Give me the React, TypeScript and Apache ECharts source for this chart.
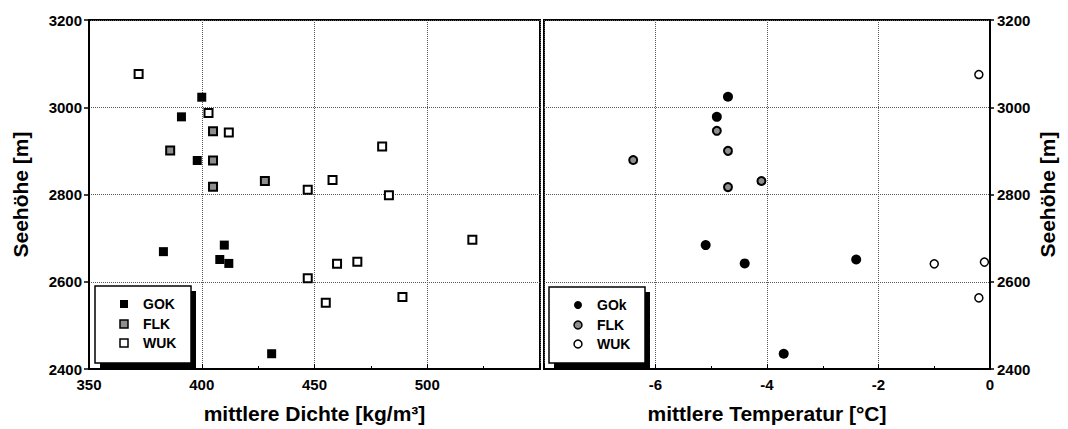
import React, { useEffect, useRef } from "react";
import * as echarts from "echarts";

// ---- data ----
// left panel: mean density [kg/m³] vs altitude [m]
const gokDensity = [[400, 3023], [391, 2978], [398, 2878], [383, 2669], [410, 2684], [408, 2651], [412, 2642], [431, 2435]];
const flkDensity = [[405, 2945], [386, 2901], [405, 2878], [428, 2831], [405, 2818]];
const wukDensity = [[372, 3076], [403, 2987], [412, 2942], [480, 2910], [458, 2833], [447, 2811], [483, 2798], [520, 2696], [460, 2641], [469, 2646], [447, 2608], [455, 2552], [489, 2565]];
// right panel: mean temperature [°C] vs altitude [m]
const gokTemp = [[-4.7, 3024], [-4.9, 2978], [-5.1, 2684], [-4.4, 2642], [-2.4, 2651], [-3.7, 2435]];
const flkTemp = [[-4.9, 2946], [-4.7, 2900], [-6.4, 2879], [-4.1, 2831], [-4.7, 2817]];
const wukTemp = [[-0.2, 3075], [-1.0, 2641], [-0.1, 2645], [-0.2, 2563]];

const legendLeftLabels = ["GOK", "FLK", "WUK"];
const legendRightLabels = ["GOk", "FLK", "WUK"];

const xNameLeft = "mittlere Dichte [kg/m³]";
const xNameRight = "mittlere Temperatur [°C]";
const yName = "Seehöhe [m]";

const FONT = '"Liberation Sans", Arial, sans-serif';

export default function App() {
  const ref = useRef<HTMLDivElement>(null);
  useEffect(() => {
    if (!ref.current) return;
    const chart = echarts.init(ref.current, undefined, { renderer: "svg" });

    const plain = (v: number) => String(v);
    const tickLabel = { color: "#000", fontSize: 15, fontWeight: "bold" as const, fontFamily: FONT, formatter: plain };
    const nameStyle = { color: "#000", fontSize: 21, fontWeight: "bold" as const, fontFamily: FONT };
    const splitLine = { show: true, lineStyle: { color: "#555", type: "dotted" as const, width: 1 } };
    const axisLine = { show: true, onZero: false, lineStyle: { color: "#000", width: 2 } };

    const styles = [
      { color: "#000", borderColor: "#000", borderWidth: 0, opacity: 1 },
      { color: "#8e8e8e", borderColor: "#000", borderWidth: 2, opacity: 1 },
      { color: "#fff", borderColor: "#000", borderWidth: 2, opacity: 1 },
    ];

    const graphic: any[] = [];
    const addLegend = (x0: number, y0: number, w: number, h: number, mx: number, tx: number, labels: string[], circle: boolean) => {
      graphic.push({ type: "rect", shape: { x: x0 + 5, y: y0 + 5, width: w, height: h }, style: { fill: "#000" } });
      graphic.push({ type: "rect", shape: { x: x0, y: y0, width: w, height: h }, style: { fill: "#fff", stroke: "#000", lineWidth: 1.5 } });
      const ys = [y0 + 18, y0 + 38, y0 + 57];
      labels.forEach((lab, i) => {
        const st = styles[i];
        const sw = i === 0 ? 0 : 1.5;
        const markerStyle = { fill: st.color, stroke: i === 0 ? null : "#000", lineWidth: sw };
        if (circle) {
          graphic.push({ type: "circle", shape: { cx: mx, cy: ys[i], r: 4 }, style: markerStyle });
        } else {
          graphic.push({ type: "rect", shape: { x: mx - 4, y: ys[i] - 4, width: 8, height: 8 }, style: markerStyle });
        }
        graphic.push({
          type: "text",
          x: tx,
          y: ys[i],
          style: { text: lab, fill: "#000", fontSize: 14, fontWeight: "bold", fontFamily: FONT, verticalAlign: "middle", align: "left" },
        });
      });
    };
    addLegend(95, 286, 96, 77, 124, 143, legendLeftLabels, false);
    addLegend(549, 287, 96, 76, 578, 597, legendRightLabels, true);

    chart.setOption({
      animation: false,
      backgroundColor: "#fff",
      grid: [
        { left: 89, top: 20, width: 451, height: 350, show: true, borderColor: "#000", borderWidth: 2, backgroundColor: "transparent" },
        { left: 544, top: 20, width: 446, height: 350, show: true, borderColor: "#000", borderWidth: 2, backgroundColor: "transparent" },
      ],
      xAxis: [
        {
          gridIndex: 0, type: "value", min: 350, max: 550, interval: 50,
          axisLine, axisTick: { show: true, inside: true, length: 5, lineStyle: { color: "#000", width: 1 } },
          minorTick: { show: true, splitNumber: 2, length: 3, lineStyle: { color: "#000" } },
          axisLabel: { ...tickLabel, margin: 8, showMaxLabel: false },
          splitLine,
          name: xNameLeft, nameLocation: "middle", nameGap: 34, nameTextStyle: nameStyle,
        },
        {
          gridIndex: 1, type: "value", min: -8, max: 0, interval: 2,
          axisLine, axisTick: { show: true, inside: true, length: 5, lineStyle: { color: "#000", width: 1 } },
          minorTick: { show: true, splitNumber: 2, length: 3, lineStyle: { color: "#000" } },
          axisLabel: { ...tickLabel, margin: 8, showMinLabel: false },
          splitLine,
          name: xNameRight, nameLocation: "middle", nameGap: 34, nameTextStyle: nameStyle,
        },
      ],
      yAxis: [
        {
          gridIndex: 0, type: "value", min: 2400, max: 3200, interval: 200, position: "left",
          axisLine, axisTick: { show: true, inside: false, length: 5, lineStyle: { color: "#000", width: 1.5 } },
          axisLabel: { ...tickLabel, margin: 7 },
          splitLine,
          name: yName, nameLocation: "middle", nameGap: 58, nameRotate: 90, nameTextStyle: nameStyle,
        },
        {
          gridIndex: 1, type: "value", min: 2400, max: 3200, interval: 200, position: "right",
          axisLine, axisTick: { show: true, inside: false, length: 4, lineStyle: { color: "#000", width: 1.5 } },
          axisLabel: { ...tickLabel, margin: 7 },
          splitLine,
          name: yName, nameLocation: "middle", nameGap: 47, nameRotate: 90, nameTextStyle: nameStyle,
        },
      ],
      series: [
        { name: "GOK", type: "scatter", xAxisIndex: 0, yAxisIndex: 0, symbol: "rect", symbolSize: 9, data: gokDensity, itemStyle: styles[0] },
        { name: "FLK", type: "scatter", xAxisIndex: 0, yAxisIndex: 0, symbol: "rect", symbolSize: 8, data: flkDensity, itemStyle: styles[1] },
        { name: "WUK", type: "scatter", xAxisIndex: 0, yAxisIndex: 0, symbol: "rect", symbolSize: 8, data: wukDensity, itemStyle: styles[2] },
        { name: "GOk", type: "scatter", xAxisIndex: 1, yAxisIndex: 1, symbol: "circle", symbolSize: 10, data: gokTemp, itemStyle: styles[0] },
        { name: "FLK T", type: "scatter", xAxisIndex: 1, yAxisIndex: 1, symbol: "circle", symbolSize: 8, data: flkTemp, itemStyle: styles[1] },
        { name: "WUK T", type: "scatter", xAxisIndex: 1, yAxisIndex: 1, symbol: "circle", symbolSize: 8, data: wukTemp, itemStyle: { color: "#fff", borderColor: "#000", borderWidth: 1.5, opacity: 1 } },
      ],
      graphic,
    });
    return () => chart.dispose();
  }, []);
  return <div ref={ref} style={{ position: "fixed", left: 0, top: 0, width: 1068, height: 429 }} />;
}
